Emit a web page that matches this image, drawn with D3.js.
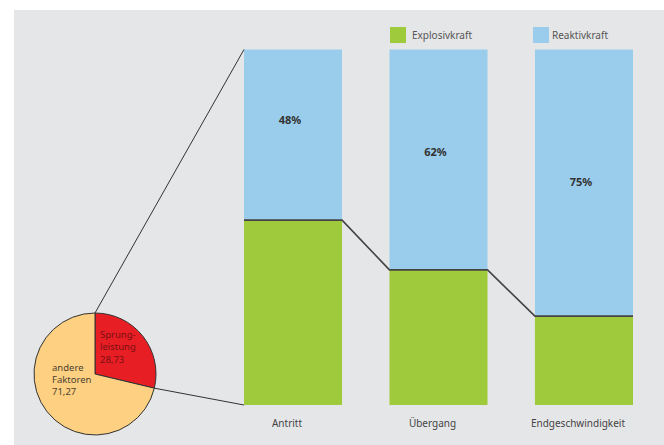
<!DOCTYPE html>
<html>
<head>
<meta charset="utf-8">
<script src="https://cdn.jsdelivr.net/npm/d3@7"></script>
<style>
  body { margin: 0; background: #fff; }
  svg { display: block; font-family: "Noto Sans", "Open Sans", sans-serif; }
</style>
</head>
<body>
<script>
// data
var phases = ["Antritt", "Übergang", "Endgeschwindigkeit"];
var explosiv = [52, 38, 25];
var reaktiv = [48, 62, 75];
var pieLabels = [["Sprung-", "leistung", "28,73"], ["andere", "Faktoren", "71,27"]];
var pieValues = [28.73, 71.27];
var legendNames = ["Explosivkraft", "Reaktivkraft"];

var width = 664, height = 445;
var green = "#9eca3b", blue = "#9acdec";

var svg = d3.select("body").append("svg")
    .attr("width", width)
    .attr("height", height);

// grey panel
svg.append("rect")
    .attr("x", 14).attr("y", 10)
    .attr("width", width - 14).attr("height", height - 10)
    .attr("fill", "#e5e6e8");

// scales
var x = d3.scaleBand()
    .domain(phases)
    .range([244, 633])
    .paddingInner(0.326)
    .paddingOuter(0);

var y = d3.scaleLinear()
    .domain([0, 100])
    .range([405, 49.5]);

var rows = phases.map(function(p, i) {
    return { phase: p, explosiv: explosiv[i], reaktiv: reaktiv[i] };
});

var stack = d3.stack().keys(["explosiv", "reaktiv"]);
var series = stack(rows);
var colors = { explosiv: green, reaktiv: blue };

svg.append("g")
  .selectAll("g")
  .data(series)
  .join("g")
    .attr("fill", function(d) { return colors[d.key]; })
  .selectAll("rect")
  .data(function(d) { return d; })
  .join("rect")
    .attr("x", function(d) { return x(d.data.phase); })
    .attr("y", function(d) { return y(d[1]); })
    .attr("width", x.bandwidth())
    .attr("height", function(d) { return y(d[0]) - y(d[1]); });

// line along the splits
var pts = [];
rows.forEach(function(d) {
    pts.push([x(d.phase), y(d.explosiv)]);
    pts.push([x(d.phase) + x.bandwidth(), y(d.explosiv)]);
});
svg.append("path")
    .attr("d", d3.line()(pts))
    .attr("fill", "none")
    .attr("stroke", "#444")
    .attr("stroke-width", 1.6);

// percent labels
svg.append("g")
  .selectAll("text")
  .data(rows)
  .join("text")
    .attr("x", function(d) { return x(d.phase) + x.bandwidth() / 2 - 3; })
    .attr("y", function(d) { return y(100 - 0.646 * d.reaktiv) - 40 + 4; })
    .attr("text-anchor", "middle")
    .attr("font-size", 11)
    .attr("font-weight", "bold")
    .attr("fill", "#333")
    .text(function(d) { return d.reaktiv + "%"; });

// category labels
svg.append("g")
  .selectAll("text")
  .data(phases)
  .join("text")
    .attr("x", function(d) { return x(d) + x.bandwidth() / 2 - 6; })
    .attr("y", 427)
    .attr("text-anchor", "middle")
    .attr("font-size", 10)
    .attr("fill", "#444")
    .text(function(d) { return d; });

// legend
var legend = svg.append("g")
  .selectAll("g")
  .data(legendNames)
  .join("g")
    .attr("transform", function(d, i) { return "translate(" + (i ? 533 : 390) + ",27)"; });
legend.append("rect")
    .attr("width", 16).attr("height", 16)
    .attr("fill", function(d, i) { return i ? blue : green; });
legend.append("text")
    .attr("x", function(d, i) { return i ? 19 : 22; })
    .attr("y", 12)
    .attr("font-size", 10)
    .attr("fill", "#555")
    .text(function(d) { return d; });

// pie
var cx = 95, cy = 374, r = 61;
var arcs = d3.pie().sort(null)(pieValues);
var arc = d3.arc().innerRadius(0).outerRadius(r);
var pieG = svg.append("g").attr("transform", "translate(" + cx + "," + cy + ")");
pieG.selectAll("path")
  .data(arcs)
  .join("path")
    .attr("d", arc)
    .attr("fill", function(d, i) { return i ? "#fdd082" : "#e81e25"; })
    .attr("stroke", "#333")
    .attr("stroke-width", 1);

// zoom lines from pie to first bar
var a0 = arcs[0].startAngle, a1 = arcs[0].endAngle;
var bx = x(phases[0]);
svg.append("line")
    .attr("x1", cx + r * Math.sin(a0)).attr("y1", cy - r * Math.cos(a0))
    .attr("x2", bx).attr("y2", y(100))
    .attr("stroke", "#333").attr("stroke-width", 1);
svg.append("line")
    .attr("x1", cx + r * Math.sin(a1)).attr("y1", cy - r * Math.cos(a1))
    .attr("x2", bx).attr("y2", y(0))
    .attr("stroke", "#333").attr("stroke-width", 1);

// pie labels
var pieText = [
    { lines: pieLabels[0], x: 100, y: 338, lh: 12.4, fill: "#7a1012" },
    { lines: pieLabels[1], x: 52, y: 371, lh: 12, fill: "#4d4230" }
];
pieText.forEach(function(t) {
    var txt = svg.append("text")
        .attr("font-size", 9.5)
        .attr("fill", t.fill);
    t.lines.forEach(function(l, i) {
        txt.append("tspan").attr("x", t.x).attr("y", t.y + i * t.lh).text(l);
    });
});
</script>
</body>
</html>
